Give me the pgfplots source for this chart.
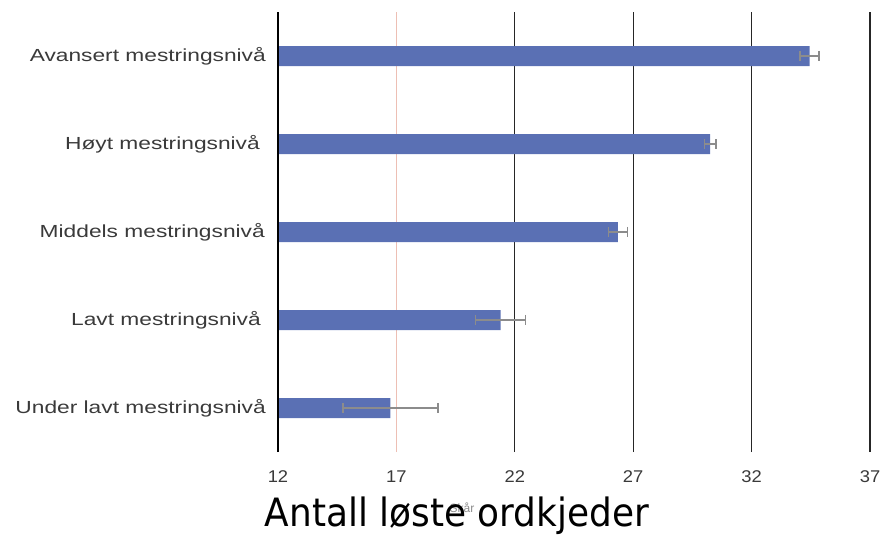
\documentclass[border=0pt]{standalone}
\usepackage{pgfplots}
\pgfplotsset{compat=1.18}
\usepackage{fontspec}
\setmainfont{Liberation Sans}
\newfontfamily\labfont[FakeStretch=1.3]{Liberation Sans}
\newfontfamily\numfont[FakeStretch=1.08]{Liberation Sans}
\newfontfamily\bigfont[FakeStretch=0.92]{DejaVu Sans}
\definecolor{barblue}{HTML}{5A70B4}
\definecolor{labgray}{HTML}{3A3A3A}
\definecolor{redline}{HTML}{EDBFB4}
\begin{document}
\begin{tikzpicture}[x=1pt,y=1pt]
\useasboundingbox (0,0) rectangle (883,541);
\begin{axis}[
  at={(278pt,89pt)}, anchor=south west,
  scale only axis, width=592pt, height=440pt,
  xmin=12, xmax=37, ymin=-0.5, ymax=4.5,
  axis line style={draw=none},
  clip=false,
  xtick={12,17,22,27,32,37},
  ytick={0,1,2,3,4},
  yticklabels={Under lavt mestringsnivå,Lavt mestringsnivå\kern5pt,Middels mestringsnivå\kern1pt,Høyt mestringsnivå\kern6pt,Avansert mestringsnivå},
  major tick length=0pt,
  xtick pos=bottom, ytick pos=left,
  xticklabel style={font=\numfont\fontsize{17}{20}\selectfont, text=labgray, anchor=center, yshift=-25pt, inner sep=0pt},
  yticklabel style={font=\labfont\fontsize{17.5}{20}\selectfont, text=labgray, anchor=east, xshift=-12pt, inner sep=0pt},
  /pgf/number format/assume math mode=true,
  xbar, bar width=20pt, bar shift=0pt,
]
% vertical grid lines
\draw[black!85, line width=1.3pt] (axis cs:22,-0.5) -- (axis cs:22,4.5);
\draw[black!85, line width=1.3pt] (axis cs:27,-0.5) -- (axis cs:27,4.5);
\draw[black!85, line width=1.3pt] (axis cs:32,-0.5) -- (axis cs:32,4.5);
\draw[black!85, line width=1.3pt] (axis cs:37,-0.5) -- (axis cs:37,4.5);
\draw[redline, line width=1.3pt] (axis cs:17,-0.5) -- (axis cs:17,4.5);
\addplot[fill=barblue, draw=none,
  error bars/.cd, x dir=both, x explicit, error mark=|,
  error bar style={draw=black!45, line width=1.4pt},
  error mark options={draw=black!45, line width=1.4pt, mark size=5pt}]
  coordinates {
  (16.75,0) +- (2.0,0)
  (21.4,1) +- (1.05,0)
  (26.35,2) +- (0.4,0)
  (30.25,3) +- (0.25,0)
  (34.45,4) +- (0.4,0)
};
\draw[black, line width=2.4pt] (axis cs:12,-0.5) -- (axis cs:12,4.5);
\end{axis}
\node[text=black!45, font=\fontsize{12}{14}\selectfont] at (462,33) {Skår};
\node[font=\bigfont\fontsize{39}{46}\selectfont, inner sep=0pt] at (457,25) {Antall løste ordkjeder};
\end{tikzpicture}
\end{document}
